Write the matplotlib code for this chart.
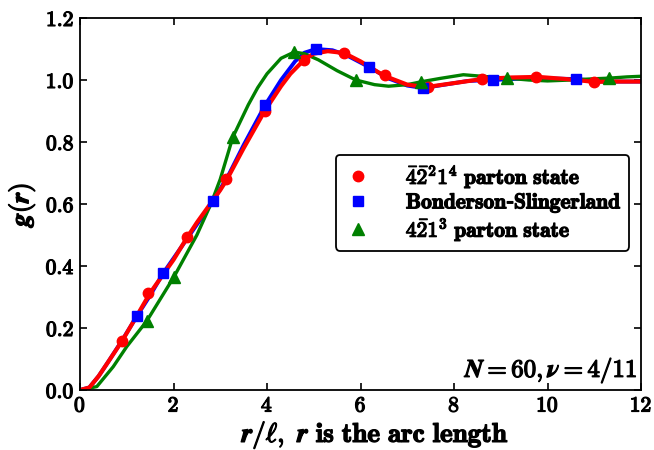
import matplotlib

matplotlib.use("Agg")
import matplotlib.pyplot as plt
import matplotlib.patheffects as pe
from matplotlib.ticker import FuncFormatter

plt.rcParams["mathtext.fontset"] = "cm"

# curves
red_x = [0, 0.2, 0.4, 0.6, 0.9, 1.2, 1.5, 2.0, 2.3, 2.5, 3.0, 3.15, 3.5, 3.95, 4.3, 4.5,
         4.8, 5.0, 5.3, 5.65, 6.0, 6.5, 7.0, 7.4, 8.0, 8.6, 9.2, 9.8, 10.4, 11.0, 11.5, 12.0]
red_y = [0, 0.008, 0.045, 0.09, 0.158, 0.235, 0.313, 0.42, 0.494, 0.54, 0.645, 0.681, 0.78, 0.90,
         0.98, 1.02, 1.066, 1.085, 1.093, 1.087, 1.06, 1.014, 0.985, 0.977, 0.99, 1.003, 1.008,
         1.010, 1.003, 0.994, 0.995, 0.995]
blue_x = [0, 0.2, 0.4, 0.6, 0.9, 1.22, 1.5, 1.78, 2.3, 2.85, 3.2, 3.5, 3.96, 4.3, 4.6, 4.8, 5.05,
          5.4, 5.7, 6.18, 6.6, 7.0, 7.34, 7.8, 8.3, 8.83, 9.5, 10.0, 10.61, 11.2, 12.0]
blue_y = [0, 0.008, 0.045, 0.09, 0.16, 0.239, 0.305, 0.377, 0.49, 0.610, 0.70, 0.79, 0.919, 1.00,
          1.06, 1.088, 1.10, 1.096, 1.08, 1.042, 1.005, 0.982, 0.974, 0.985, 0.997, 1.000, 1.005,
          1.005, 1.003, 0.995, 0.995]
green_x = [0, 0.36, 0.71, 1.0, 1.43, 2.01, 2.5, 2.8, 3.0, 3.27, 3.6, 3.8, 4.0, 4.3, 4.58, 4.8,
           5.1, 5.5, 5.9, 6.3, 6.6, 7.0, 7.29, 7.7, 8.2, 8.6, 9.13, 9.6, 10.0, 10.5, 11.0, 11.32,
           11.7, 12.0]
green_y = [0, 0.011, 0.075, 0.14, 0.223, 0.365, 0.50, 0.60, 0.68, 0.816, 0.92, 0.975, 1.02, 1.07,
           1.09, 1.085, 1.065, 1.03, 1.00, 0.985, 0.98, 0.985, 0.994, 1.005, 1.017, 1.012, 1.006,
           1.0, 0.997, 1.0, 1.004, 1.006, 1.01, 1.012]

# marker positions
red_mx = [0.90, 1.45, 2.29, 3.12, 3.96, 4.79, 5.65, 6.52, 7.44, 8.60, 9.75, 10.99]
red_my = [0.158, 0.313, 0.494, 0.681, 0.900, 1.066, 1.087, 1.015, 0.977, 1.003, 1.010, 0.994]
blue_mx = [1.22, 1.78, 2.85, 3.96, 5.05, 6.18, 7.34, 8.83, 10.61]
blue_my = [0.239, 0.377, 0.610, 0.919, 1.100, 1.042, 0.974, 1.000, 1.003]
green_mx = [1.43, 2.01, 3.27, 4.58, 5.90, 7.29, 9.13, 11.32]
green_my = [0.223, 0.365, 0.816, 1.090, 1.000, 0.994, 1.006, 1.006]

labels = [r"$\bar{\mathbf{4}}\bar{\mathbf{2}}^{\mathbf{2}}\mathbf{1}^{\mathbf{4}}\ \mathbf{parton\ state}$",
          r"$\mathbf{Bonderson}$-$\mathbf{Slingerland}$",
          r"$\mathbf{4}\bar{\mathbf{2}}\mathbf{1}^{\mathbf{3}}\ \mathbf{parton\ state}$"]

# fake a heavier bold face
bold = [pe.withStroke(linewidth=0.9, foreground="black")]

fig = plt.figure(figsize=(6.54, 4.5), dpi=100)
ax = fig.add_axes([80 / 654, 60 / 450, 561 / 654, 372 / 450])

ax.plot(blue_x, blue_y, color="blue", lw=2.8)
ax.plot(green_x, green_y, color="green", lw=2.4)
ax.plot(red_x, red_y, color="red", lw=3.0)
h_red, = ax.plot(red_mx, red_my, "o", color="red", ms=7.5, label=labels[0])
h_blue, = ax.plot(blue_mx, blue_my, "s", color="blue", ms=7, label=labels[1])
h_green, = ax.plot(green_mx, green_my, "^", color="green", ms=8, label=labels[2])

ax.set_xlim(0, 12)
ax.set_ylim(0, 1.2)
ax.set_xticks(range(0, 13, 2))
ax.set_yticks([0, 0.2, 0.4, 0.6, 0.8, 1.0, 1.2])
ax.xaxis.set_major_formatter(FuncFormatter(lambda v, p: r"$\mathbf{%d}$" % v))
ax.yaxis.set_major_formatter(FuncFormatter(lambda v, p: r"$\mathbf{%.1f}$" % v))
ax.tick_params(direction="in", top=True, right=True, labelsize=15.5, width=1.2, length=5, pad=4)
for lab in ax.get_xticklabels() + ax.get_yticklabels():
    lab.set_path_effects(bold)
for s in ax.spines.values():
    s.set_linewidth(1.3)

ax.set_xlabel(r"$\boldsymbol{r/\ell},\ \boldsymbol{r}\ \mathbf{is\ the\ arc\ length}$", fontsize=19.5,
              path_effects=bold, va="center")
ax.xaxis.set_label_coords(0.527, -0.122)
ax.set_ylabel(r"$\boldsymbol{g(r)}$", fontsize=19, labelpad=6, path_effects=bold)

leg = ax.legend(handles=[h_red, h_blue, h_green], loc="center left", bbox_to_anchor=(0.456, 0.503),
                fontsize=15.5, frameon=True, fancybox=True, handletextpad=1.5, borderpad=0.35,
                labelspacing=0.05, handlelength=1.4, borderaxespad=0)
leg.get_frame().set_edgecolor("black")
leg.get_frame().set_linewidth(1.3)
leg.get_frame().set_alpha(1)
for t in leg.get_texts():
    t.set_path_effects(bold)

ax.text(0.995, 0.014, r"$\boldsymbol{N}\mathbf{=60},\boldsymbol{\nu}\mathbf{=4/11}$", transform=ax.transAxes,
        ha="right", va="bottom", fontsize=18, path_effects=bold)

fig.savefig("out.png", dpi=100)
